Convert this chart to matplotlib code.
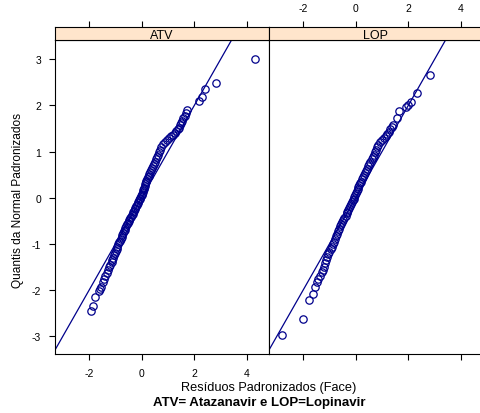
#!/usr/bin/env python3
"""QQ plot of standardized residuals by drug (lattice-like two panels)."""

import matplotlib

matplotlib.use("Agg", force=True)

import matplotlib.pyplot as plt

plt.rcParams["font.family"] = ["Liberation Sans", "DejaVu Sans"]
plt.rcParams["axes.unicode_minus"] = False

PANELS = ["ATV", "LOP"]

# (residual, normal quantile)
atv_resid = [
    -1.92, -1.86, -1.78, -1.62, -1.58, -1.54, -1.47, -1.44, -1.38, -1.33,
    -1.28, -1.25, -1.20, -1.15, -1.12, -1.09, -1.05, -1.03, -0.99, -0.96,
    -0.93, -0.90, -0.87, -0.84, -0.80, -0.77, -0.74, -0.71, -0.68, -0.65,
    -0.62, -0.59, -0.56, -0.53, -0.50, -0.47, -0.44, -0.41, -0.38, -0.35,
    -0.32, -0.29, -0.27, -0.24, -0.21, -0.18, -0.15, -0.13, -0.10, -0.08,
    -0.05, -0.03, 0.00, 0.02, 0.04, 0.06, 0.08, 0.10, 0.12, 0.14,
    0.16, 0.18, 0.21, 0.23, 0.26, 0.29, 0.32, 0.35, 0.38, 0.42,
    0.46, 0.50, 0.54, 0.58, 0.62, 0.66, 0.70, 0.74, 0.80, 0.88,
    0.96, 1.04, 1.12, 1.20, 1.27, 1.32, 1.36, 1.40, 1.44, 1.48,
    1.52, 1.58, 1.63, 1.67, 1.73, 2.18, 2.29, 2.39, 2.81, 4.29,
]
atv_quant = [
    -2.45, -2.34, -2.15, -2.03, -1.98, -1.94, -1.82, -1.77, -1.70, -1.63,
    -1.57, -1.51, -1.46, -1.40, -1.35, -1.30, -1.25, -1.19, -1.15, -1.11,
    -1.06, -1.01, -0.97, -0.93, -0.89, -0.85, -0.81, -0.77, -0.73, -0.69,
    -0.65, -0.62, -0.58, -0.55, -0.51, -0.48, -0.45, -0.41, -0.38, -0.35,
    -0.31, -0.28, -0.25, -0.22, -0.19, -0.15, -0.12, -0.09, -0.06, -0.03,
    0.00, 0.03, 0.06, 0.09, 0.12, 0.16, 0.19, 0.22, 0.26, 0.29,
    0.33, 0.37, 0.40, 0.44, 0.48, 0.52, 0.56, 0.60, 0.65, 0.69,
    0.74, 0.78, 0.83, 0.88, 0.93, 0.98, 1.04, 1.10, 1.16, 1.21,
    1.26, 1.30, 1.33, 1.36, 1.40, 1.44, 1.48, 1.52, 1.57, 1.62,
    1.67, 1.73, 1.78, 1.84, 1.91, 2.10, 2.19, 2.35, 2.48, 3.00,
]

lop_resid = [
    -2.79, -2.02, -1.79, -1.62, -1.56, -1.47, -1.42, -1.37, -1.28, -1.24,
    -1.21, -1.16, -1.12, -1.09, -1.04, -1.00, -0.95, -0.91, -0.87, -0.83,
    -0.79, -0.75, -0.71, -0.67, -0.63, -0.59, -0.55, -0.51, -0.47, -0.43,
    -0.39, -0.35, -0.32, -0.28, -0.25, -0.21, -0.18, -0.14, -0.11, -0.08,
    -0.05, -0.02, 0.01, 0.04, 0.07, 0.10, 0.13, 0.16, 0.20, 0.24,
    0.28, 0.32, 0.36, 0.40, 0.44, 0.48, 0.52, 0.56, 0.60, 0.64,
    0.68, 0.72, 0.76, 0.80, 0.86, 0.93, 1.00, 1.08, 1.14, 1.20,
    1.25, 1.32, 1.38, 1.42, 1.58, 1.64, 1.92, 2.00, 2.12, 2.34, 2.83,
]
lop_quant = [
    -2.98, -2.62, -2.21, -2.09, -1.93, -1.83, -1.76, -1.70, -1.62, -1.56,
    -1.51, -1.41, -1.35, -1.29, -1.23, -1.18, -1.12, -1.07, -1.01, -0.95,
    -0.90, -0.84, -0.78, -0.72, -0.67, -0.62, -0.57, -0.52, -0.48, -0.43,
    -0.39, -0.34, -0.30, -0.26, -0.22, -0.18, -0.14, -0.10, -0.06, -0.02,
    0.02, 0.06, 0.10, 0.14, 0.19, 0.23, 0.27, 0.31, 0.35, 0.40,
    0.44, 0.49, 0.54, 0.58, 0.63, 0.68, 0.73, 0.78, 0.83, 0.88,
    0.93, 0.98, 1.03, 1.09, 1.15, 1.21, 1.26, 1.30, 1.33, 1.37,
    1.42, 1.48, 1.54, 1.58, 1.73, 1.88, 1.97, 2.01, 2.07, 2.26, 2.66,
]

X_TICKS = [-2, 0, 2, 4]
Y_TICKS = [-3, -2, -1, 0, 1, 2, 3]
XLIM = (-3.3, 4.84)
YLIM = (-3.38, 3.41)

POINT_COLOR = "#00008B"
STRIP_COLOR = "#FFE5CC"

W, H = 480, 414
fig = plt.figure(figsize=(W / 100, H / 100), dpi=100)


def px_rect(left, top, right, bottom):
    return [left / W, 1 - bottom / H, (right - left) / W, (bottom - top) / H]


def style_frame(ax):
    for spine in ax.spines.values():
        spine.set_color("black")
        spine.set_linewidth(0.8)
    ax.tick_params(which="both", direction="out", length=4, width=0.8,
                   colors="black", labelsize=7.5, pad=6)


panel_data = [(atv_resid, atv_quant), (lop_resid, lop_quant)]
panel_px = [(55, 269), (269, 483)]

for i, (name, (xs, ys), (left, right)) in enumerate(zip(PANELS, panel_data, panel_px)):
    ax = fig.add_axes(px_rect(left, 41.3, right, 354.7))
    ax.plot(XLIM, XLIM, color=POINT_COLOR, lw=0.9)
    ax.plot(xs, ys, linestyle="none", marker="o", mfc="none",
            mec=POINT_COLOR, ms=5.3, mew=0.9)
    ax.set_xlim(XLIM)
    ax.set_ylim(YLIM)
    ax.set_xticks(X_TICKS)
    ax.set_yticks(Y_TICKS)
    style_frame(ax)
    if i == 0:
        ax.tick_params(left=True, labelleft=True, right=False,
                       bottom=True, labelbottom=True)
    else:
        ax.tick_params(left=False, labelleft=False, right=True,
                       labelright=False, bottom=True, labelbottom=False)

    strip = fig.add_axes(px_rect(left, 28, right, 41.3))
    strip.set_facecolor(STRIP_COLOR)
    strip.set_xlim(XLIM)
    strip.set_ylim(0, 1)
    strip.set_xticks(X_TICKS)
    strip.set_yticks([])
    style_frame(strip)
    strip.tick_params(bottom=False, labelbottom=False, top=True,
                      labeltop=(i == 1))
    strip.text(0.5, 0.38, name, transform=strip.transAxes, ha="center",
               va="center", fontsize=9)

fig.text(18 / W, 1 - 201 / H, "Quantis da Normal Padronizados", rotation=90,
         ha="center", va="center", fontsize=8.6)
fig.text(268.5 / W, 1 - 388 / H, "Resíduos Padronizados (Face)",
         ha="center", va="center", fontsize=9.2)
fig.text(259 / W, 1 - 403.5 / H, "ATV= Atazanavir e LOP=Lopinavir",
         ha="center", va="center", fontsize=9.5, fontweight="bold")

fig.savefig("out.png", dpi=100)
